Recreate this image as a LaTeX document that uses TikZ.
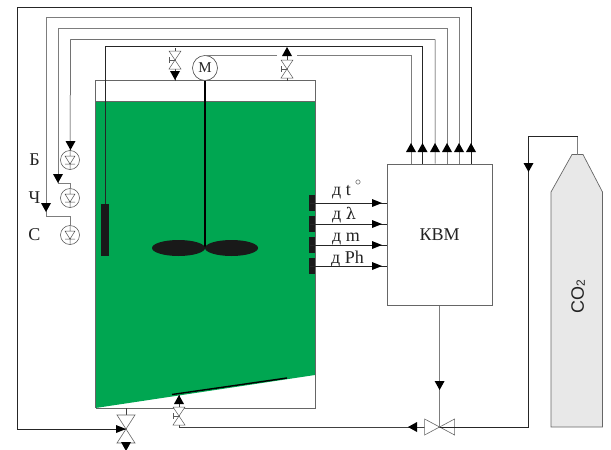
\documentclass[tikz,border=0pt]{standalone}
\usepackage{fontspec}
\setmainfont{Liberation Serif}
\setsansfont{Liberation Sans}
\newfontfamily\greekfont{DejaVu Serif}
\definecolor{tankgreen}{RGB}{0,166,81}
\definecolor{ink}{RGB}{35,35,35}
\definecolor{pipegray}{RGB}{125,125,125}
\tikzset{
  pipe/.style={draw=black!75,line width=.5pt},
  pipeg/.style={draw=pipegray,line width=.8pt},
  pipek/.style={draw=black!85,line width=.5pt},
  outline/.style={draw=black!60,line width=.7pt},
  lbl/.style={text=ink,inner sep=0pt,font=\fontsize{18}{18}\selectfont},
  sensor/.style={fill=black!90,draw=none},
  pics/tipd/.style={code={\fill[black] (-5,-9)--(5,-9)--(0,0)--cycle;}},
  pics/tipu/.style={code={\fill[black] (-5,9)--(5,9)--(0,0)--cycle;}},
  pics/tipl/.style={code={\fill[black] (9,-5)--(9,5)--(0,0)--cycle;}},
  pics/tipr/.style={code={\fill[black] (-10,-4)--(-10,4)--(0,0)--cycle;}},
  pics/vvalve/.style={code={\draw[black!65,line width=.5pt,fill=white] (-6,-9)--(6,-9)--(-6,9)--(6,9)--cycle;
     \draw[black!65,line width=.5pt] (0,0)--(-6,0) (-6,-3)--(-6,3);}},
  pics/vvalveplain/.style={code={\draw[black!60,line width=.6pt,fill=white] (-9,-14)--(9,-14)--(-9,14)--(9,14)--cycle;}},
  pics/hvalve/.style={code={\draw[black!60,line width=.6pt,fill=white] (-15,-8)--(-15,8)--(15,-8)--(15,8)--cycle;}},
  pics/led/.style={code={\draw[black!70,line width=.5pt,fill=white] (0,0) circle (9.5);
     \draw[black!70,line width=.5pt] (-5,-4)--(5,-4)--(0,4)--cycle (-5,4)--(5,4) (0,-9.5)--(0,-4) (0,4)--(0,9.5);}},
}
\begin{document}
\begin{tikzpicture}[x=1pt,y=-1pt]
\useasboundingbox (0,0) rectangle (611,450);
% tank
\coordinate (tTL) at (95.5,80.5); \coordinate (tTR) at (315,80.5);
\coordinate (tBL) at (95.5,408); \coordinate (tBR) at (315,408);
\fill[tankgreen] (95.5,101.5) -- (315,101.5) -- (315,375) -- (95.5,408) -- cycle;
\draw[outline] (tBL) -- (tTL) -- (tTR) -- (tBR) -- (tBL);
\draw[outline] (95.5,101.5) -- (315,101.5);
\draw[black,line width=1.4pt] (172,394.5) -- (287,378);
% KVM
\node[outline,minimum width=105.5pt,minimum height=141.5pt,inner sep=0pt,lbl,anchor=north west] (kvm) at (386.5,163.5) {КВМ};
% motor and agitator
\node[circle,draw=black!70,line width=.6pt,fill=white,minimum size=25pt,inner sep=0pt,lbl,font=\fontsize{15}{15}\selectfont] (motor) at (205,68) {М};
\coordinate (hub) at (205,248);
\draw[black,line width=2.8pt] (motor.south) -- (hub);
\fill[black!90] (178.5,248) ellipse (26.5 and 8);
\fill[black!90] (231.5,248) ellipse (26.5 and 8);
% LEDs and labels
\pic at (70,160) {led}; \coordinate (ledB) at (70,150.5);
\pic at (70,198) {led}; \coordinate (ledC) at (70,188.5);
\pic at (70,235) {led}; \coordinate (ledS) at (70,225.5);
\node[lbl] (lb) at (34.5,159.5) {Б};
\node[lbl] (lc) at (34.5,198) {Ч};
\node[lbl] (ls) at (34.5,235) {С};
% left sensor
\fill[sensor] (101,204) rectangle (109,256);
\coordinate (sL) at (105.5,204);
% KVM inputs
\foreach \n/\x in {a/411,b/422.5,c/435,d/447,e/459,f/471}{\coordinate (k\n) at (\x,163.5);}
% signal lines
\draw[pipek] (kf) |- (17.5,7.5) -- (17.5,429) -- (126,429);
\draw[pipeg] (ke) |- (46,17.5) -- (46,216) -| (ledS);
\draw[pipeg] (kd) |- (58,28) -- (58,183) -| (ledC);
\draw[pipek] (kc) |- (70.5,39.5) -- (ledB);
\draw[pipek] (sL) -- (105.5,46) -- (422.5,46) -- (kb);
\draw[pipeg] (ka) |- (297,55) (277,55) -- (205,55) -- (motor.north);
\foreach \x in {411,422.5,435,447,459,471}{\pic at (\x,143) {tipu};}
\pic at (70.5,150) {tipd};
\pic at (58,183) {tipd};
\pic at (46,212) {tipd};
% top valves
\coordinate (vA) at (175,48); \coordinate (vB) at (287,48);
\draw[pipe] (vA) -- (175,80.5);
\pic at (175,60) {vvalve};
\pic at (175,80) {tipd};
\draw[pipe] (vB) -- (287,80.5);
\pic at (287,69) {vvalve};
\pic at (287,47) {tipu};
% instrument sensors
\foreach \n/\y in {1/203,2/224,3/245,4/266}{
  \fill[sensor] (309,\y-8) rectangle (315,\y+8);
  \coordinate (s\n) at (310,\y);
  \draw[pipek] (s\n) -- (kvm.west |- s\n);
  \pic at (382,\y) {tipr};
}
\node[lbl,anchor=base west] (d1) at (332,195) {д t};
\node[inner sep=0pt,text=ink,font=\fontsize{12}{12}\selectfont] (d1o) at (358,183) {$\circ$};
\node[lbl,anchor=base west] (d2) at (332,219) {д {\greekfont\fontsize{16}{16}\selectfont λ}};
\node[lbl,anchor=base west] (d3) at (332,241) {д m};
\node[lbl,anchor=base west] (d4) at (331,263) {д Ph};
% bottom valves and pipes
\coordinate (vout) at (126,408);
\coordinate (vend) at (126,444);
\draw[pipe] (vout) -- (vend);
\pic at (126,429) {vvalveplain};
\pic at (126,429) {tipr};
\pic at (126,451) {tipd};
\coordinate (hv) at (kvm.south |- 0,427);
\draw[pipeg,line width=1pt] (kvm.south) -- (hv);
\pic at ([yshift=37pt]hv) {tipd};
\coordinate (vin) at (179,395);
\draw[pipe] (hv) -- (179,427) -- (vin);
\pic at (179,416) {vvalve};
\pic at (179,395) {tipu};
\pic at (hv) {hvalve};
\pic at (408,427) {tipl};
% CO2 cylinder
\draw[outline,fill=black!9] (551,427) -- (551,192) -- (572,154.5) -- (583,154.5) -- (602.5,192) -- (602.5,427) -- cycle;
\node[rotate=90,inner sep=0pt,text=ink,font=\sffamily\fontsize{18}{18}\selectfont] (co2) at (578,297) {CO\raisebox{-.1ex}{\fontsize{12}{12}\selectfont 2}};
\coordinate (cyl) at (577.5,154.5);
\draw[pipeg] (cyl) -- (577.5,136.5);
\draw[pipek] (577.5,136.5) -- (528.5,136.5) -- (528.5,427) -- (hv);
\pic at (528.5,172) {tipd};
\end{tikzpicture}
\end{document}
